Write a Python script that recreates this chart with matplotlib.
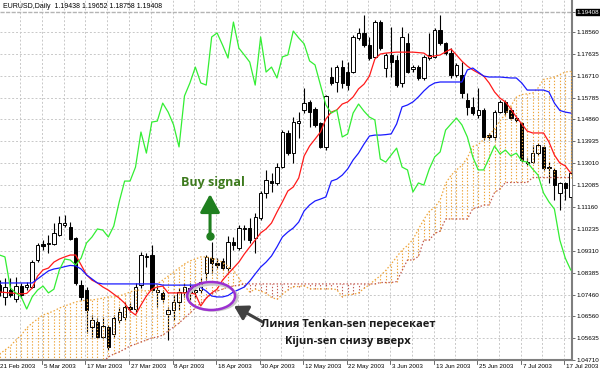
import matplotlib
matplotlib.use("Agg")
import matplotlib.pyplot as plt
import numpy as np
from matplotlib.patches import Ellipse
from matplotlib.transforms import blended_transform_factory

plt.rcParams['font.family'] = ['Liberation Sans', 'DejaVu Sans']

header = "EURUSD,Daily  1.19438 1.19652 1.18758 1.19408"

date_labels = ["21 Feb 2003", "5 Mar 2003", "17 Mar 2003", "27 Mar 2003", "8 Apr 2003",
               "18 Apr 2003", "30 Apr 2003", "12 May 2003", "22 May 2003", "3 Jun 2003",
               "13 Jun 2003", "25 Jun 2003", "7 Jul 2003", "17 Jul 2003"]
date_bars = [0, 8, 16, 24, 32, 40, 48, 56, 64, 72, 80, 88, 96, 104]

y_tick_values = [1.19408, 1.18560, 1.17635, 1.16710, 1.15785, 1.14860, 1.13935, 1.13010,
                 1.12085, 1.11160, 1.10235, 1.09310, 1.08385, 1.07460, 1.06560, 1.05635, 1.04710]
y_tick_labels = ["1.19408", "1.18560", "1.17635", "1.16710", "1.15785", "1.14860", "1.13935",
                 "1.13010", "1.12085", "1.11160", "1.10235", "1.09310", "1.08385", "1.07460",
                 "1.06560", "1.05635", "1.04710"]

opens = [1.0787, 1.0737, 1.0766, 1.0728, 1.0783, 1.0779, 1.0779, 1.0893, 1.0960, 1.0960,
         1.0960, 1.0998, 1.1041, 1.1032, 1.0986, 1.0787, 1.0766, 1.0610, 1.0631, 1.0568,
         1.0610, 1.0581, 1.0640, 1.0652, 1.0695, 1.0686, 1.0787, 1.0906, 1.0914, 1.0758,
         1.0754, 1.0665, 1.0682, 1.0716, 1.0758, 1.0775, 1.0758, 1.0766, 1.0838, 1.0901,
         1.0880, 1.0889, 1.0859, 1.0969, 1.0943, 1.1024, 1.1028, 1.0986, 1.1070, 1.1176,
         1.1226, 1.1218, 1.1285, 1.1429, 1.1344, 1.1471, 1.1526, 1.1560, 1.1530, 1.1471,
         1.1370, 1.1665, 1.1644, 1.1707, 1.1686, 1.1686, 1.1830, 1.1851, 1.1800, 1.1750,
         1.1897, 1.1703, 1.1758, 1.1737, 1.1640, 1.1809, 1.1699, 1.1707, 1.1661, 1.1745,
         1.1750, 1.1863, 1.1809, 1.1766, 1.1674, 1.1674, 1.1568, 1.1539, 1.1505, 1.1526,
         1.1420, 1.1412, 1.1517, 1.1560, 1.1526, 1.1492, 1.1471, 1.1306, 1.1306, 1.1344,
         1.1370, 1.1285, 1.1273, 1.1176, 1.1218, 1.1159]
highs = [1.0808, 1.0817, 1.0817, 1.0821, 1.0796, 1.0800, 1.0893, 1.0965, 1.0977, 1.0998,
         1.1049, 1.1079, 1.1083, 1.1053, 1.0990, 1.0808, 1.0779, 1.0661, 1.0648, 1.0652,
         1.0619, 1.0661, 1.0695, 1.0716, 1.0711, 1.0796, 1.0927, 1.0922, 1.0956, 1.0787,
         1.0766, 1.0695, 1.0745, 1.0775, 1.0796, 1.0796, 1.0787, 1.0817, 1.0914, 1.0969,
         1.0901, 1.0901, 1.0994, 1.0990, 1.1041, 1.1041, 1.1070, 1.1091, 1.1184, 1.1273,
         1.1260, 1.1302, 1.1441, 1.1441, 1.1496, 1.1517, 1.1619, 1.1568, 1.1539, 1.1475,
         1.1589, 1.1707, 1.1716, 1.1737, 1.1728, 1.1842, 1.1872, 1.1927, 1.1834, 1.1906,
         1.1906, 1.1766, 1.1876, 1.1758, 1.1876, 1.1851, 1.1716, 1.1716, 1.1758, 1.1851,
         1.1872, 1.1927, 1.1813, 1.1787, 1.1724, 1.1728, 1.1598, 1.1581, 1.1619, 1.1534,
         1.1429, 1.1526, 1.1568, 1.1568, 1.1534, 1.1505, 1.1475, 1.1323, 1.1378, 1.1387,
         1.1378, 1.1306, 1.1281, 1.1222, 1.1222, 1.1273]
lows = [1.0741, 1.0703, 1.0737, 1.0716, 1.0732, 1.0766, 1.0775, 1.0884, 1.0935, 1.0922,
        1.0956, 1.0994, 1.1032, 1.0977, 1.0787, 1.0724, 1.0585, 1.0568, 1.0564, 1.0564,
        1.0513, 1.0568, 1.0627, 1.0640, 1.0673, 1.0673, 1.0775, 1.0863, 1.0758, 1.0695,
        1.0716, 1.0555, 1.0640, 1.0682, 1.0737, 1.0724, 1.0737, 1.0754, 1.0808, 1.0838,
        1.0859, 1.0851, 1.0842, 1.0935, 1.0935, 1.0977, 1.0965, 1.0922, 1.1062, 1.1154,
        1.1180, 1.1209, 1.1281, 1.1336, 1.1302, 1.1408, 1.1513, 1.1454, 1.1454, 1.1365,
        1.1357, 1.1631, 1.1602, 1.1619, 1.1610, 1.1682, 1.1821, 1.1792, 1.1737, 1.1745,
        1.1779, 1.1665, 1.1665, 1.1623, 1.1623, 1.1682, 1.1686, 1.1652, 1.1652, 1.1737,
        1.1745, 1.1800, 1.1758, 1.1661, 1.1665, 1.1576, 1.1505, 1.1505, 1.1492, 1.1399,
        1.1399, 1.1399, 1.1513, 1.1505, 1.1484, 1.1475, 1.1306, 1.1294, 1.1302, 1.1336,
        1.1273, 1.1218, 1.1146, 1.1104, 1.1146, 1.1154]
closes = [1.0758, 1.0779, 1.0745, 1.0783, 1.0745, 1.0787, 1.0884, 1.0956, 1.0952, 1.0965,
          1.1007, 1.1049, 1.1049, 1.0981, 1.0796, 1.0737, 1.0682, 1.0640, 1.0568, 1.0614,
          1.0526, 1.0648, 1.0673, 1.0695, 1.0686, 1.0779, 1.0914, 1.0910, 1.0766, 1.0766,
          1.0728, 1.0682, 1.0716, 1.0758, 1.0779, 1.0754, 1.0766, 1.0800, 1.0906, 1.0880,
          1.0872, 1.0859, 1.0969, 1.0956, 1.1028, 1.1028, 1.0977, 1.1074, 1.1176, 1.1230,
          1.1218, 1.1285, 1.1433, 1.1344, 1.1475, 1.1479, 1.1555, 1.1517, 1.1463, 1.1370,
          1.1585, 1.1640, 1.1707, 1.1640, 1.1631, 1.1834, 1.1851, 1.1800, 1.1745, 1.1897,
          1.1787, 1.1758, 1.1728, 1.1631, 1.1834, 1.1686, 1.1707, 1.1661, 1.1750, 1.1758,
          1.1863, 1.1809, 1.1766, 1.1674, 1.1716, 1.1598, 1.1539, 1.1513, 1.1526, 1.1412,
          1.1412, 1.1517, 1.1560, 1.1517, 1.1492, 1.1484, 1.1315, 1.1302, 1.1344, 1.1378,
          1.1281, 1.1281, 1.1209, 1.1218, 1.1197, 1.1260]

tenkan_sen = [1.0758, 1.0756, 1.0754, 1.0752, 1.0750, 1.0752, 1.0775, 1.0825, 1.0851, 1.0859,
              1.0884, 1.0897, 1.0906, 1.0914, 1.0914, 1.0872, 1.0830, 1.0808, 1.0796, 1.0779,
              1.0766, 1.0749, 1.0732, 1.0711, 1.0678, 1.0661, 1.0703, 1.0741, 1.0770, 1.0779,
              1.0783, 1.0754, 1.0754, 1.0754, 1.0754, 1.0754, 1.0749, 1.0699, 1.0732, 1.0754,
              1.0770, 1.0808, 1.0834, 1.0859, 1.0884, 1.0918, 1.0948, 1.0977, 1.1007, 1.1024,
              1.1049, 1.1095, 1.1138, 1.1184, 1.1201, 1.1239, 1.1332, 1.1374, 1.1403, 1.1433,
              1.1488, 1.1517, 1.1526, 1.1551, 1.1560, 1.1581, 1.1615, 1.1635, 1.1669, 1.1741,
              1.1762, 1.1766, 1.1768, 1.1770, 1.1770, 1.1770, 1.1770, 1.1768, 1.1766, 1.1750,
              1.1754, 1.1758, 1.1771, 1.1783, 1.1758, 1.1732, 1.1711, 1.1695, 1.1682, 1.1669,
              1.1640, 1.1602, 1.1576, 1.1560, 1.1530, 1.1496, 1.1467, 1.1437, 1.1429, 1.1429,
              1.1429, 1.1391, 1.1336, 1.1302, 1.1290, 1.1260]
kijun_sen = [1.0796, 1.0796, 1.0796, 1.0796, 1.0796, 1.0796, 1.0796, 1.0813, 1.0830, 1.0847,
             1.0855, 1.0859, 1.0865, 1.0870, 1.0868, 1.0855, 1.0830, 1.0813, 1.0796, 1.0792,
             1.0792, 1.0792, 1.0792, 1.0792, 1.0792, 1.0792, 1.0792, 1.0792, 1.0792, 1.0792,
             1.0787, 1.0787, 1.0787, 1.0787, 1.0787, 1.0787, 1.0787, 1.0777, 1.0762, 1.0741,
             1.0737, 1.0737, 1.0743, 1.0758, 1.0768, 1.0779, 1.0804, 1.0834, 1.0863, 1.0884,
             1.0910, 1.0948, 1.0990, 1.1011, 1.1028, 1.1053, 1.1100, 1.1125, 1.1142, 1.1150,
             1.1159, 1.1226, 1.1234, 1.1251, 1.1277, 1.1315, 1.1344, 1.1382, 1.1416, 1.1420,
             1.1420, 1.1422, 1.1425, 1.1467, 1.1539, 1.1547, 1.1560, 1.1581, 1.1606, 1.1627,
             1.1640, 1.1644, 1.1644, 1.1644, 1.1644, 1.1644, 1.1695, 1.1703, 1.1686, 1.1669,
             1.1665, 1.1665, 1.1665, 1.1663, 1.1661, 1.1661, 1.1640, 1.1610, 1.1610, 1.1610,
             1.1610, 1.1602, 1.1555, 1.1524, 1.1517, 1.1513]
chikou_span = [1.0914, 1.0906, 1.0775, 1.0754, 1.0737, 1.0686, 1.0737, 1.0766, 1.0783, 1.0754,
               1.0770, 1.0851, 1.0897, 1.0893, 1.0872, 1.0901, 1.0965, 1.0990, 1.1024, 1.1019,
               1.0990, 1.1036, 1.1138, 1.1226, 1.1226, 1.1285, 1.1433, 1.1344, 1.1475, 1.1479,
               1.1555, 1.1517, 1.1463, 1.1370, 1.1585, 1.1640, 1.1707, 1.1640, 1.1631, 1.1834,
               1.1851, 1.1800, 1.1745, 1.1897, 1.1787, 1.1758, 1.1728, 1.1631, 1.1834, 1.1686,
               1.1707, 1.1661, 1.1750, 1.1758, 1.1859, 1.1830, 1.1805, 1.1733, 1.1716, 1.1631,
               1.1547, 1.1513, 1.1526, 1.1412, 1.1425, 1.1513, 1.1551, 1.1521, 1.1496, 1.1484,
               1.1319, 1.1306, 1.1336, 1.1365, 1.1285, 1.1273, 1.1180, 1.1218, 1.1209, 1.1277,
               1.1328, 1.1349, 1.1441, 1.1467, 1.1492, 1.1463, 1.1412, 1.1328, 1.1273, 1.1273,
               1.1323, 1.1374, 1.1340, 1.1357, 1.1332, 1.1344, 1.1311, 1.1306, 1.1277, 1.1251,
               1.1176, 1.1138, 1.1108, 1.0977, 1.0901, 1.0851]
senkou_a = [1.0496, 1.0513, 1.0530, 1.0555, 1.0576, 1.0606, 1.0627, 1.0644, 1.0661, 1.0669,
            1.0678, 1.0690, 1.0699, 1.0707, 1.0716, 1.0720, 1.0724, 1.0724, 1.0728, 1.0732,
            1.0737, 1.0737, 1.0741, 1.0749, 1.0758, 1.0766, 1.0766, 1.0762, 1.0766, 1.0792,
            1.0808, 1.0825, 1.0842, 1.0859, 1.0876, 1.0889, 1.0897, 1.0906, 1.0906, 1.0901,
            1.0893, 1.0884, 1.0867, 1.0851, 1.0817, 1.0783, 1.0758, 1.0770, 1.0762, 1.0752,
            1.0735, 1.0727, 1.0748, 1.0767, 1.0781, 1.0781, 1.0785, 1.0771, 1.0771, 1.0771,
            1.0771, 1.0771, 1.0768, 1.0738, 1.0747, 1.0748, 1.0754, 1.0773, 1.0789, 1.0809,
            1.0826, 1.0849, 1.0876, 1.0906, 1.0935, 1.0954, 1.0980, 1.1022, 1.1064, 1.1098,
            1.1115, 1.1146, 1.1216, 1.1250, 1.1273, 1.1292, 1.1324, 1.1372, 1.1380, 1.1401,
            1.1419, 1.1448, 1.1480, 1.1509, 1.1543, 1.1580, 1.1591, 1.1594, 1.1597, 1.1619,
            1.1655, 1.1659, 1.1665, 1.1675, 1.1686, 1.1689]
senkou_b = ([1.0429] * 19 +
            [1.0462, 1.0484, 1.0496, 1.0505, 1.0517, 1.0530, 1.0538, 1.0547, 1.0555, 1.0564,
             1.0568, 1.0576, 1.0593, 1.0610, 1.0627, 1.0648, 1.0669, 1.0690, 1.0711, 1.0732,
             1.0749, 1.0762, 1.0770, 1.0779, 1.0783, 1.0787] +
            [1.0792] * 25 +
            [1.0798, 1.0798, 1.0798, 1.0802, 1.0849, 1.0893, 1.0893, 1.0908, 1.0977, 1.0977,
             1.1005, 1.1015, 1.1066, 1.1066, 1.1066, 1.1066, 1.1066, 1.1110, 1.1115, 1.1125,
             1.1125, 1.1178, 1.1193, 1.1220, 1.1220, 1.1220, 1.1220, 1.1220, 1.1241] +
            [1.1241] * 7)

ORANGE = '#eea53a'
BROWN = '#c25a50'
DOT = (0, (1.2, 1.6))

fig = plt.figure(figsize=(6, 3.75), dpi=100)
ax = fig.add_axes([0, 0.04, 0.953, 0.96])
ax.set_xlim(0.09, 105.2)
ax.set_ylim(1.0471, 1.1990)

# grid
for v in y_tick_values[1:]:
    ax.axhline(v, color='#c8c8c8', lw=0.7, ls=(0, (2, 2)), zorder=0)
for g in range(4, 108, 4):
    ax.axvline(g - 0.2, color='#c8c8c8', lw=0.7, ls=(0, (2, 2)), zorder=0)
ax.axhline(y_tick_values[0], color='#b4b4b4', lw=1.0, ls=(0, (3, 1)), zorder=0)

# candles
o = np.array(opens); h = np.array(highs); l = np.array(lows); c = np.array(closes)
xc = np.arange(len(o))
ax.vlines(xc, l, h, color='black', lw=0.8, zorder=2)
up = c >= o
body_lo = np.minimum(o, c)
body_h = np.maximum(np.abs(c - o), 0.00012)
ax.bar(xc, body_h, bottom=body_lo, width=0.62,
       color=np.where(up, 'white', 'black'), edgecolor='black', linewidth=0.7, zorder=3)

# kumo
a = np.array(senkou_a); b = np.array(senkou_b)
nk = min(len(a), len(b))
a = a[:nk]; b = b[:nk]
xk = np.arange(nk)
bull = a >= b
lo = np.minimum(a, b); hi = np.maximum(a, b)
ax.vlines(xk[bull], lo[bull], hi[bull], colors=ORANGE, linestyles=DOT, lw=0.8, zorder=4)
ax.vlines(xk[~bull], lo[~bull], hi[~bull], colors=BROWN, linestyles=DOT, lw=0.8, zorder=4)
ax.plot(xk, a, color=ORANGE, ls=DOT, lw=0.9, zorder=4)
ax.plot(xk, b, color=BROWN, ls=DOT, lw=0.9, zorder=4)

# ichimoku lines
ax.plot(np.arange(len(tenkan_sen)), tenkan_sen, color='#ff1a1a', lw=0.9, zorder=5)
ax.plot(np.arange(len(kijun_sen)), kijun_sen, color='#1a1aff', lw=0.9, zorder=5)
ax.plot(np.arange(len(chikou_span)), chikou_span, color='#33ee33', lw=0.9, zorder=5)

# axes styling
for s in ['left', 'top']:
    ax.spines[s].set_visible(False)
for s in ['right', 'bottom']:
    ax.spines[s].set_color('#7f7f7f')
    ax.spines[s].set_linewidth(1.5)
ax.yaxis.tick_right()
ax.set_yticks(y_tick_values)
ax.set_yticklabels(y_tick_labels, fontsize=4.5)
ax.tick_params(axis='y', length=2.5, width=0.6, pad=1.0, color='#555555')
top_lab = ax.get_yticklabels()[0]
top_lab.set_color('white')
top_lab.set_bbox(dict(facecolor='black', edgecolor='black', pad=0.6))
ax.set_xticks([])
tr = blended_transform_factory(ax.transData, ax.transAxes)
for pos, lab in zip(date_bars, date_labels):
    ax.plot([pos - 0.2, pos - 0.2], [0, -0.012], transform=tr, color='#555555', lw=0.6, clip_on=False)
    ax.text(pos + 0.15, -0.012, lab, transform=tr, ha='left', va='top', fontsize=4.5, clip_on=False)

ax.text(0.005, 0.993, header, transform=ax.transAxes, ha='left', va='top', fontsize=5)

# annotations
GREEN = '#1f7f1f'
ax.annotate('', xy=(38.7, 1.1171), xytext=(38.7, 1.0994),
            arrowprops=dict(arrowstyle='-|>,head_length=0.55,head_width=0.3', mutation_scale=20,
                            lw=2.2, color=GREEN, shrinkA=0, shrinkB=0), zorder=8)
ax.plot([38.7], [1.0994], 'o', ms=5, color=GREEN, zorder=8)
ax.text(39.2, 1.1218, 'Buy signal', ha='center', va='center', fontsize=9, fontweight='bold',
        color='#3d7a1d', family=['Open Sans', 'DejaVu Sans'], zorder=8)

ax.add_patch(Ellipse((39.2, 1.0735), width=9.0, height=0.0110, fill=False,
                     edgecolor='#c8c8c8', lw=1.8, zorder=6))
ax.add_patch(Ellipse((38.9, 1.0741), width=8.8, height=0.0118, fill=False,
                     edgecolor='#9b30d0', lw=1.8, zorder=7))
ax.annotate('', xy=(43.1, 1.0699), xytext=(48.4, 1.0631),
            arrowprops=dict(arrowstyle='-|>,head_length=0.5,head_width=0.3', mutation_scale=16,
                            lw=2.2, color='#404040', shrinkA=0, shrinkB=0), zorder=8)
ax.text(64.1, 1.0619, 'Линия Tenkan-sen пересекает', ha='center', va='center', fontsize=8,
        fontweight='bold', color='#1a1a1a', family=['Open Sans', 'DejaVu Sans'], zorder=8)
ax.text(64.1, 1.0547, 'Kijun-sen снизу вверх', ha='center', va='center', fontsize=8,
        fontweight='bold', color='#1a1a1a', family=['Open Sans', 'DejaVu Sans'], zorder=8)

fig.savefig('out.png', dpi=100)
